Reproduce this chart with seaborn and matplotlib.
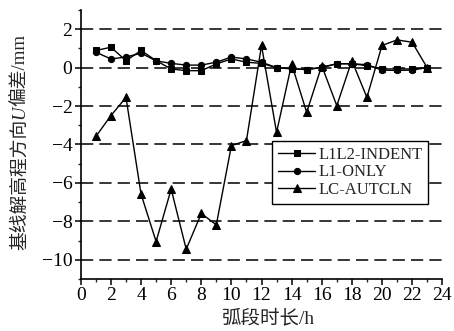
import matplotlib
matplotlib.use("Agg")
import matplotlib.pyplot as plt
from matplotlib.ticker import MultipleLocator
import seaborn as sns
import pandas as pd

hours = list(range(1, 24))
l1l2_indent = [0.89, 1.06, 0.36, 0.89, 0.36, -0.07, -0.16, -0.16, 0.19, 0.45, 0.28, 0.22,
               0.0, -0.07, -0.10, 0.0, 0.20, 0.20, 0.10, -0.07, -0.07, -0.07, 0.0]
l1_only = [0.80, 0.45, 0.55, 0.75, 0.35, 0.22, 0.13, 0.13, 0.28, 0.55, 0.45, 0.28,
           0.0, -0.05, -0.10, 0.02, 0.20, 0.20, 0.15, -0.13, -0.15, -0.13, 0.0]
lc_autcln = [-3.58, -2.50, -1.55, -6.58, -9.05, -6.32, -9.45, -7.59, -8.18, -4.06, -3.80, 1.15,
             -3.37, 0.19, -2.33, 0.10, -1.98, 0.36, -1.55, 1.15, 1.44, 1.32, 0.0]
series_names = ["L1L2-INDENT", "L1-ONLY", "LC-AUTCLN"]
y_ticks = [-10, -8, -6, -4, -2, 0, 2]
x_ticks = list(range(0, 25, 2))
xlabel = "弧段时长/h"
ylabel_parts = ["基线解高程方向", "U", "偏差/mm"]

sns.set_style("ticks")
FAM = ["Liberation Serif", "Noto Sans CJK SC"]
plt.rcParams["font.family"] = FAM
plt.rcParams["axes.unicode_minus"] = True

fig = plt.figure(figsize=(4.54, 3.31), dpi=100)
ax = fig.add_axes([0.178, 0.157, 0.796, 0.813])

df = pd.DataFrame({"x": hours * 3,
                   "y": l1l2_indent + l1_only + lc_autcln,
                   "s": [series_names[0]] * 23 + [series_names[1]] * 23 + [series_names[2]] * 23})

markers = {series_names[0]: "s", series_names[1]: "o", series_names[2]: "^"}
sizes = {series_names[0]: 4.5, series_names[1]: 4.5, series_names[2]: 6.0}
for name in series_names:
    sub = df[df["s"] == name]
    sns.lineplot(data=sub, x="x", y="y", ax=ax, color="black", linewidth=1.0,
                 marker=markers[name], markersize=sizes[name], markeredgecolor="black",
                 markerfacecolor="black", label=name, zorder=3)

ax.set_xlim(0, 24)
ax.set_ylim(-11, 3)
ax.set_xticks(x_ticks)
ax.set_yticks(y_ticks)
ax.xaxis.set_minor_locator(MultipleLocator(1))
ax.yaxis.set_minor_locator(MultipleLocator(1))
ax.tick_params(axis="both", which="major", direction="out", length=4, width=1.1,
               labelsize=14, colors="black", pad=2)
ax.tick_params(axis="both", which="minor", direction="out", length=2.5, width=1.0)
ax.yaxis.grid(True, which="major", linestyle=(0, (8, 4)), color="black", linewidth=1.1)
ax.xaxis.grid(False)
sns.despine(ax=ax)
for sp in ["left", "bottom"]:
    ax.spines[sp].set_linewidth(1.2)
    ax.spines[sp].set_color("black")

ax.set_xlabel(xlabel, fontsize=14)
ax.xaxis.set_label_coords(0.52, -0.112)
ax.set_ylabel("")

# y label built from pieces so that U can be italic
renderer = fig.canvas.get_renderer()
styles = ["normal", "italic", "normal"]
texts = []
for part, st in zip(ylabel_parts, styles):
    t = fig.text(0, 0, part, rotation=90, fontsize=13.5, style=st, family=FAM,
                 ha="center", va="bottom")
    texts.append(t)
lengths = [t.get_window_extent(renderer).height for t in texts]
total = sum(lengths)
center_px = 331 - 142
x_px = 20
y_cur = center_px - total / 2
for t, L in zip(texts, lengths):
    t.set_position((x_px / 454, y_cur / 331))
    y_cur += L

leg = ax.legend(loc="upper left", bbox_to_anchor=(0.53, 0.513), fontsize=12,
                frameon=True, fancybox=False, edgecolor="black", framealpha=1,
                handlelength=2.2, handletextpad=0.2, borderpad=0.35, labelspacing=0.1,
                borderaxespad=0)
leg.get_frame().set_linewidth(1.0)

fig.savefig("out.png", dpi=100)
